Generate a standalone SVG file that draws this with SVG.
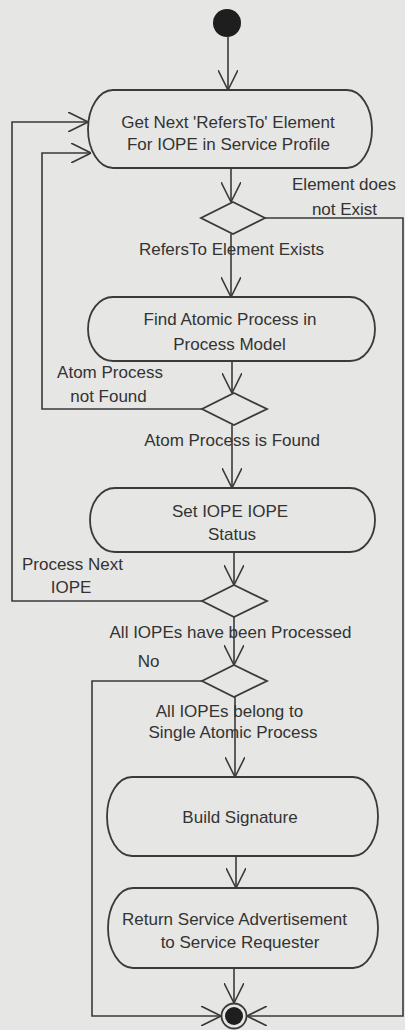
<svg xmlns="http://www.w3.org/2000/svg" width="405" height="1030" viewBox="0 0 405 1030">
  <style>
    .bg { fill: #e6e6e4; }
    .act { fill: none; stroke: #3a3a3a; stroke-width: 1.8; }
    .dec { fill: none; stroke: #3a3a3a; stroke-width: 1.8; }
    .flow { fill: none; stroke: #3a3a3a; stroke-width: 1.6; }
    .lbl { font-family: "Liberation Sans", Arial, sans-serif; font-size: 17px; fill: #333333; text-anchor: middle; }
    .dot { fill: #1e1e1e; }
  </style>
  <defs>
    <marker id="open" viewBox="0 0 20 20" refX="20" refY="10" markerWidth="20" markerHeight="20" markerUnits="userSpaceOnUse" orient="auto">
      <path d="M0,0 L20,10 L0,20" fill="none" stroke="#3a3a3a" stroke-width="1.6"/>
    </marker>
  </defs>

  <rect class="bg" x="0" y="0" width="405" height="1030"/>

  <!-- connectors -->
  <g id="connectors">
    <path class="flow" d="M228,37 L228,90" marker-end="url(#open)"/>
    <path class="flow" d="M231,168 L231,202" marker-end="url(#open)"/>
    <path class="flow" d="M231,234 L231,297" marker-end="url(#open)"/>
    <path class="flow" d="M232,361 L232,393" marker-end="url(#open)"/>
    <path class="flow" d="M232,425 L232,488" marker-end="url(#open)"/>
    <path class="flow" d="M234,552 L234,585" marker-end="url(#open)"/>
    <path class="flow" d="M234,617 L234,665" marker-end="url(#open)"/>
    <path class="flow" d="M235,697 L235,777" marker-end="url(#open)"/>
    <path class="flow" d="M236,856 L236,888" marker-end="url(#open)"/>
    <path class="flow" d="M234,968 L234,1003" marker-end="url(#open)"/>
    <!-- not found: back to start of loop -->
    <path class="flow" d="M202,409 L42,409 L42,153 L91,153" marker-end="url(#open)"/>
    <!-- process next IOPE -->
    <path class="flow" d="M202,601 L12,601 L12,122 L88,122" marker-end="url(#open)"/>
    <!-- element does not exist -->
    <path class="flow" d="M265,218 L403,218 L403,1016 L247,1016" marker-end="url(#open)"/>
    <!-- not a single atomic process -->
    <path class="flow" d="M202,681 L92,681 L92,1016 L221,1016" marker-end="url(#open)"/>
  </g>

  <g id="start">
    <circle class="dot" cx="227" cy="23" r="14"/>
  </g>

  <g id="get-next">
    <rect class="act" x="88" y="90" width="284" height="78" rx="25" ry="39"/>
    <text class="lbl" x="228" y="128">Get Next 'RefersTo' Element</text>
    <text class="lbl" x="228.5" y="150">For IOPE in Service Profile</text>
  </g>

  <g id="exists-decision">
    <polygon class="dec" points="233,202 265,218 233,234 201,218"/>
    <text class="lbl" x="344" y="190">Element does</text>
    <text class="lbl" x="344.5" y="215">not Exist</text>
    <text class="lbl" x="231.5" y="255">RefersTo Element Exists</text>
  </g>

  <g id="find-atomic">
    <rect class="act" x="88" y="297" width="287" height="64" rx="25" ry="32"/>
    <text class="lbl" x="230" y="325">Find Atomic Process in</text>
    <text class="lbl" x="229.5" y="350">Process Model</text>
  </g>

  <g id="found-decision">
    <polygon class="dec" points="234,393 267,409 234,425 202,409"/>
    <text class="lbl" x="110" y="378">Atom Process</text>
    <text class="lbl" x="108.5" y="402">not Found</text>
    <text class="lbl" x="232" y="446">Atom Process is Found</text>
  </g>

  <g id="set-status">
    <rect class="act" x="90" y="488" width="285" height="64" rx="25" ry="32"/>
    <text class="lbl" x="230" y="517">Set IOPE IOPE</text>
    <text class="lbl" x="232" y="540">Status</text>
  </g>

  <g id="processed-decision">
    <polygon class="dec" points="234,585 267,601 234,617 202,601"/>
    <text class="lbl" x="72.5" y="570">Process Next</text>
    <text class="lbl" x="71" y="593">IOPE</text>
    <text class="lbl" x="230.5" y="638">All IOPEs have been Processed</text>
  </g>

  <g id="single-decision">
    <polygon class="dec" points="234,665 267,681 234,697 202,681"/>
    <text class="lbl" x="148.5" y="667">No</text>
    <text class="lbl" x="229.5" y="717">All IOPEs belong to</text>
    <text class="lbl" x="233" y="738">Single Atomic Process</text>
  </g>

  <g id="build-signature">
    <rect class="act" x="107" y="777" width="271" height="79" rx="25" ry="39.5"/>
    <text class="lbl" x="240" y="823">Build Signature</text>
  </g>

  <g id="return-advert">
    <rect class="act" x="108" y="888" width="270" height="80" rx="25" ry="40"/>
    <text class="lbl" x="234.5" y="925">Return Service Advertisement</text>
    <text class="lbl" x="240" y="948">to Service Requester</text>
  </g>

  <g id="end">
    <circle cx="234" cy="1016" r="12.5" fill="#e6e6e4" stroke="#3a3a3a" stroke-width="1.8"/>
    <circle class="dot" cx="234" cy="1016" r="9"/>
  </g>
</svg>
